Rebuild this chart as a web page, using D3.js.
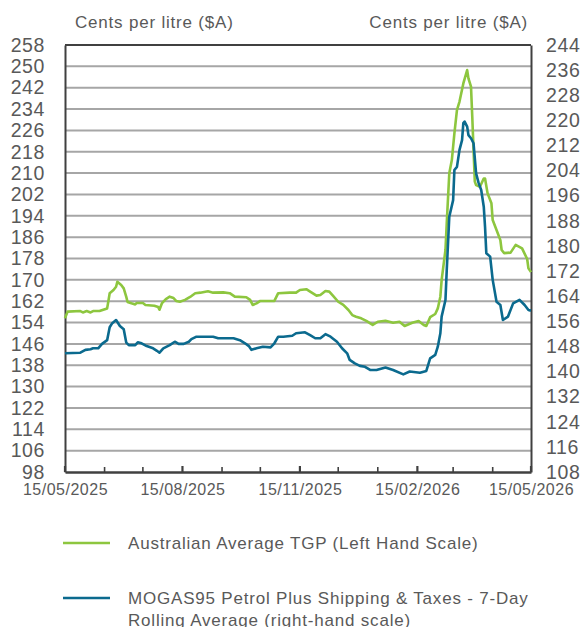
<!DOCTYPE html>
<html><head><meta charset="utf-8">
<script src="https://cdn.jsdelivr.net/npm/d3@7"></script>
<style>body{margin:0;background:#fff}svg{display:block;font-family:"Liberation Sans",Arial,sans-serif}</style>
</head><body><svg id="c" width="587" height="627"></svg>
<script>
// Australian Average TGP (left scale)
const tgpDates = ["2025-05-15","2025-05-17","2025-05-27","2025-05-29","2025-06-01","2025-06-04","2025-06-06","2025-06-11","2025-06-14","2025-06-17","2025-06-18","2025-06-19","2025-06-22","2025-06-24","2025-06-25","2025-06-28","2025-06-30","2025-07-02","2025-07-03","2025-07-06","2025-07-09","2025-07-10","2025-07-15","2025-07-17","2025-07-24","2025-07-27","2025-07-28","2025-07-30","2025-08-02","2025-08-05","2025-08-08","2025-08-10","2025-08-13","2025-08-17","2025-08-21","2025-08-25","2025-08-29","2025-09-04","2025-09-08","2025-09-16","2025-09-21","2025-09-25","2025-10-04","2025-10-07","2025-10-09","2025-10-12","2025-10-15","2025-10-26","2025-10-29","2025-11-07","2025-11-12","2025-11-15","2025-11-20","2025-11-23","2025-11-28","2025-12-01","2025-12-05","2025-12-08","2025-12-11","2025-12-15","2025-12-19","2025-12-23","2025-12-26","2025-12-29","2026-01-02","2026-01-06","2026-01-11","2026-01-15","2026-01-21","2026-01-27","2026-02-01","2026-02-05","2026-02-11","2026-02-16","2026-02-20","2026-02-22","2026-02-25","2026-03-01","2026-03-03","2026-03-05","2026-03-06","2026-03-09","2026-03-10","2026-03-12","2026-03-14","2026-03-16","2026-03-18","2026-03-20","2026-03-23","2026-03-26","2026-03-27","2026-03-29","2026-03-30","2026-03-31","2026-04-01","2026-04-02","2026-04-05","2026-04-08","2026-04-09","2026-04-11","2026-04-14","2026-04-15","2026-04-18","2026-04-21","2026-04-22","2026-04-24","2026-04-29","2026-05-03","2026-05-08","2026-05-12","2026-05-13","2026-05-15"];
const tgpValues = [155.6,158.1,158.3,157.8,158.3,157.8,158.3,158.3,158.8,159.3,162.1,165.0,166.2,167.4,169.3,168.1,166.8,163.6,161.7,161.2,160.8,161.3,161.3,160.6,160.3,159.8,158.8,161.3,162.8,163.7,163.2,162.1,161.8,162.5,163.6,165.0,165.2,165.7,165.2,165.3,165.0,163.7,163.5,162.5,160.6,161.2,162.1,162.1,165.0,165.2,165.2,166.2,166.5,165.6,164.1,164.3,165.8,165.6,164.0,161.8,160.6,158.7,156.8,156.2,155.6,154.6,153.1,154.3,154.7,153.9,154.3,152.7,153.9,154.6,153.1,152.7,156.0,157.2,159.3,163.7,169.9,181.2,191.2,209.9,214.9,224.9,233.6,236.8,243.6,248.6,245.5,242.4,231.1,218.7,206.8,205.5,204.9,208.0,208.0,202.4,198.7,192.4,188.7,184.9,181.2,180.0,180.2,183.1,181.8,177.8,174.3,172.9];

// MOGAS95 + shipping & taxes, 7-day rolling average (right scale)
const mogasDates = ["2025-05-15","2025-05-27","2025-05-31","2025-06-04","2025-06-06","2025-06-10","2025-06-13","2025-06-17","2025-06-19","2025-06-21","2025-06-24","2025-06-27","2025-06-30","2025-07-02","2025-07-04","2025-07-09","2025-07-11","2025-07-14","2025-07-18","2025-07-23","2025-07-26","2025-07-28","2025-07-31","2025-08-05","2025-08-09","2025-08-12","2025-08-16","2025-08-20","2025-08-22","2025-08-26","2025-09-03","2025-09-08","2025-09-12","2025-09-24","2025-09-29","2025-10-03","2025-10-06","2025-10-08","2025-10-12","2025-10-17","2025-10-23","2025-10-26","2025-10-29","2025-11-02","2025-11-09","2025-11-12","2025-11-19","2025-11-23","2025-11-27","2025-12-01","2025-12-05","2025-12-09","2025-12-14","2025-12-18","2025-12-22","2025-12-24","2025-12-28","2026-01-01","2026-01-05","2026-01-09","2026-01-14","2026-01-21","2026-01-27","2026-02-04","2026-02-09","2026-02-17","2026-02-22","2026-02-25","2026-03-01","2026-03-03","2026-03-05","2026-03-06","2026-03-09","2026-03-10","2026-03-12","2026-03-15","2026-03-16","2026-03-18","2026-03-20","2026-03-22","2026-03-23","2026-03-24","2026-03-26","2026-03-27","2026-03-29","2026-03-31","2026-04-02","2026-04-04","2026-04-06","2026-04-08","2026-04-09","2026-04-10","2026-04-13","2026-04-15","2026-04-18","2026-04-21","2026-04-23","2026-04-27","2026-05-01","2026-05-06","2026-05-10","2026-05-13","2026-05-15"];
const mogasValues = [145.8,146.0,146.9,147.1,147.4,147.4,148.8,150.0,154.1,155.4,156.4,154.5,153.5,149.2,148.4,148.4,149.3,149.0,148.1,147.4,146.6,146.0,147.4,148.4,149.5,148.8,148.8,149.5,150.3,151.1,151.1,151.1,150.6,150.6,150.0,149.0,148.1,146.9,147.4,147.9,147.7,149.0,151.1,151.1,151.4,152.2,152.5,151.6,150.6,150.6,151.9,151.1,149.5,147.4,145.8,143.7,142.6,141.8,141.5,140.5,140.5,141.3,140.5,139.1,140.0,139.6,140.2,144.2,145.3,147.9,152.2,157.5,162.8,172.3,189.3,194.6,204.2,205.2,210.6,213.7,219.1,219.6,218.0,215.3,214.3,212.7,203.1,200.0,197.8,192.5,186.1,177.7,176.6,169.2,162.2,161.2,156.4,157.5,161.7,162.8,161.2,159.6,159.4];

const leftTicks = d3.range(98, 259, 8);
const rightTicks = d3.range(108, 245, 8);
const xLabelDates = ["2025-05-15","2025-08-15","2025-11-15","2026-02-15","2026-05-15"];
const xMinorDates = ["2025-05-15","2025-06-15","2025-07-15","2025-08-15","2025-09-15","2025-10-15","2025-11-15","2025-12-15","2026-01-15","2026-02-15","2026-03-15","2026-04-15","2026-05-15"];
const axisTitle = "Cents per litre ($A)";
const legendTGP = "Australian Average TGP (Left Hand Scale)";
const legendMOGAS = ["MOGAS95 Petrol Plus Shipping & Taxes - 7-Day", "Rolling Average (right-hand scale)"];

const parse = d3.timeParse("%Y-%m-%d");
const fmt = d3.timeFormat("%d/%m/%Y");
const L = 65, R = 531, T = 45, B = 472;
const textCol = "#595959", gridCol = "#a6a6a6", axisCol = "#404040";
const green = "#8DC63F", blue = "#0B6A8E";
const FF = "Liberation Sans, Arial, sans-serif";

const svg = d3.select("#c");
const x = d3.scaleTime().domain([parse("2025-05-15"), parse("2026-05-15")]).range([L, R]);
const yL = d3.scaleLinear().domain([98, 258]).range([B, T]);
const yR = d3.scaleLinear().domain([108, 244]).range([B, T]);

// gridlines
svg.append("g").selectAll("line").data(leftTicks.filter(v => v > 98 && v < 258)).join("line")
  .attr("x1", L).attr("x2", R).attr("y1", d => yL(d)).attr("y2", d => yL(d))
  .attr("stroke", gridCol).attr("stroke-width", 2);

// left axis
const gl = svg.append("g").attr("transform", `translate(${L},0)`)
  .call(d3.axisLeft(yL).tickValues(leftTicks).tickSize(0).tickPadding(20));
gl.select(".domain").attr("stroke", axisCol).attr("stroke-width", 2);
gl.selectAll("text").attr("fill", textCol).attr("font-size", 19.5).attr("letter-spacing", 0.6).attr("font-family", FF);

// right axis
const gr = svg.append("g").attr("transform", `translate(${R},0)`)
  .call(d3.axisRight(yR).tickValues(rightTicks).tickSize(0).tickPadding(15));
gr.select(".domain").attr("stroke", axisCol).attr("stroke-width", 2);
gr.selectAll("text").attr("fill", textCol).attr("font-size", 19.5).attr("letter-spacing", 0.6).attr("font-family", FF);

// top border
svg.append("line").attr("x1", L).attr("x2", R).attr("y1", T).attr("y2", T)
  .attr("stroke", axisCol).attr("stroke-width", 2);

// x axis
const gx = svg.append("g").attr("transform", `translate(0,${B})`)
  .call(d3.axisBottom(x).tickValues(xLabelDates.map(parse)).tickFormat(fmt).tickSize(0).tickPadding(12));
gx.select(".domain").attr("stroke", axisCol).attr("stroke-width", 2.5);
gx.selectAll("text").attr("fill", textCol).attr("font-size", 16).attr("letter-spacing", 0.5).attr("font-family", FF);
svg.append("g").selectAll("line").data(xMinorDates.map(parse)).join("line")
  .attr("x1", d => x(d)).attr("x2", d => x(d))
  .attr("y1", d => xLabelDates.includes(d3.timeFormat("%Y-%m-%d")(d)) ? B - 6 : B - 5).attr("y2", B)
  .attr("stroke", axisCol).attr("stroke-width", d => xLabelDates.includes(d3.timeFormat("%Y-%m-%d")(d)) ? 2.2 : 1.6);

// axis titles
svg.append("text").attr("x", 75).attr("y", 28).attr("fill", textCol).attr("font-size", 17).attr("letter-spacing", 0.8).text(axisTitle);
svg.append("text").attr("x", 528).attr("y", 28).attr("text-anchor", "end").attr("fill", textCol).attr("font-size", 17).attr("letter-spacing", 0.8).text(axisTitle);

// series
const tgp = tgpDates.map((d, i) => ({ date: parse(d), v: tgpValues[i] }));
const mogas = mogasDates.map((d, i) => ({ date: parse(d), v: mogasValues[i] }));
svg.append("path").datum(tgp).attr("fill", "none").attr("stroke", green).attr("stroke-width", 2.6)
  .attr("stroke-linejoin", "round")
  .attr("d", d3.line().x(d => x(d.date)).y(d => yL(d.v)));
svg.append("path").datum(mogas).attr("fill", "none").attr("stroke", blue).attr("stroke-width", 2.6)
  .attr("stroke-linejoin", "round")
  .attr("d", d3.line().x(d => x(d.date)).y(d => yR(d.v)));

// legend
const lg = svg.append("g");
lg.append("line").attr("x1", 63).attr("x2", 110).attr("y1", 543).attr("y2", 543).attr("stroke", green).attr("stroke-width", 2.6);
lg.append("text").attr("x", 128).attr("y", 549).attr("fill", textCol).attr("font-size", 17).attr("letter-spacing", 0.8).text(legendTGP);
lg.append("line").attr("x1", 63).attr("x2", 110).attr("y1", 598).attr("y2", 598).attr("stroke", blue).attr("stroke-width", 2.6);
legendMOGAS.forEach((t, i) => lg.append("text").attr("x", 128).attr("y", 604 + i * 22).attr("fill", textCol).attr("font-size", 17).attr("letter-spacing", 0.8).text(t));
</script></body></html>
